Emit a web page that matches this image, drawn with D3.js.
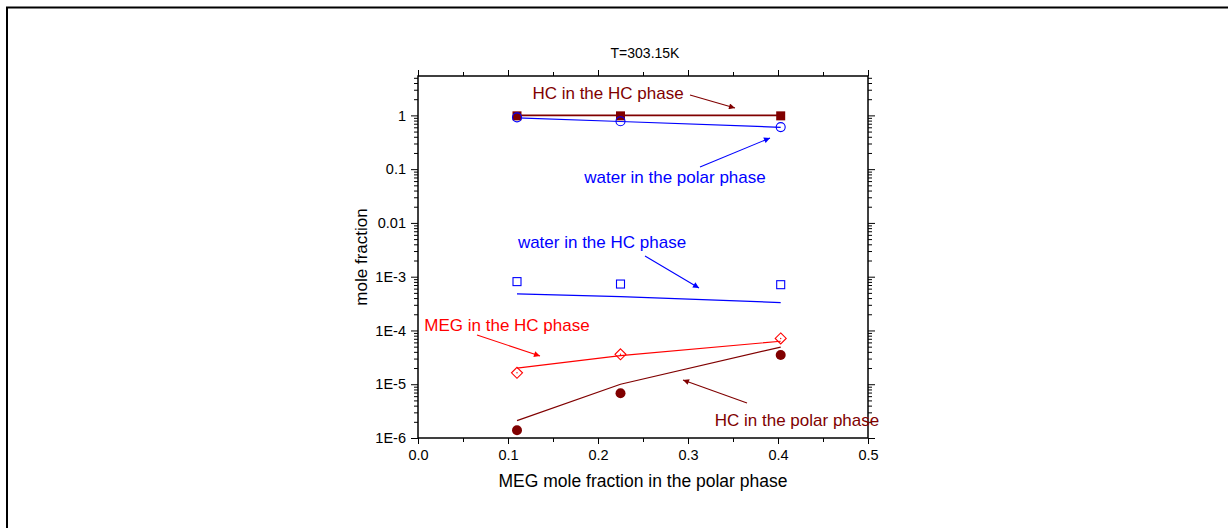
<!DOCTYPE html>
<html>
<head>
<meta charset="utf-8">
<script src="https://cdn.jsdelivr.net/npm/d3@7"></script>
<style>
  body { margin: 0; background: #fff; }
  text { font-family: "Liberation Sans", Arial, sans-serif; }
</style>
</head>
<body>
<div id="chart"></div>
<script>
// MEG mole fraction in the polar phase (x)
var megX = [0.11, 0.225, 0.403];

// measured points
var hcInHc       = [0.98, 0.98, 0.98];
var waterInPolar = [0.92, 0.78, 0.605];
var waterInHc    = [8.1e-4, 7.3e-4, 7.1e-4];
var megInHc      = [1.63e-5, 3.6e-5, 7.1e-5];
var hcInPolar    = [1.39e-6, 6.8e-6, 3.5e-5];

// model lines
var hcInHcModel       = [1.0, 1.0, 1.0];
var waterInPolarModel = [0.9, 0.77, 0.6];
var waterInHcModel    = [4.8e-4, 4.25e-4, 3.3e-4];
var megInHcModel      = [2.0e-5, 3.4e-5, 6.3e-5];
var hcInPolarModel    = [2.1e-6, 1.0e-5, 4.9e-5];

var xTicks = [0, 0.1, 0.2, 0.3, 0.4, 0.5];
var yTicks = [1e-6, 1e-5, 1e-4, 1e-3, 0.01, 0.1, 1];
var yTickLabels = ["1E-6", "1E-5", "1E-4", "1E-3", "0.01", "0.1", "1"];

var darkRed = "#800000", blue = "#0000ff", red = "#ff0000";

var W = 1228, H = 528;
var margin = { top: 76, left: 418, bottom: 90, right: 360 };
var width = W - margin.left - margin.right;
var height = H - margin.top - margin.bottom;

var root = d3.select("#chart").append("svg")
  .attr("width", W)
  .attr("height", H);

// outer frame (left + top only)
root.append("line").attr("x1", 7).attr("x2", 7).attr("y1", 7).attr("y2", H)
  .attr("stroke", "#000").attr("stroke-width", 2);
root.append("line").attr("x1", 6).attr("x2", W).attr("y1", 7.5).attr("y2", 7.5)
  .attr("stroke", "#000").attr("stroke-width", 2);

var svg = root.append("g")
  .attr("transform", "translate(" + margin.left + "," + margin.top + ")");

var x = d3.scaleLinear().domain([0, 0.5]).range([0, width]);
var y = d3.scaleLog().domain([1e-6, 5.4]).range([height, 0]);

// minor ticks
var xMinor = d3.range(0.05, 0.5, 0.1);
var yMinor = [];
for (var e = -6; e <= 0; e++) {
  for (var m = 2; m <= 9; m++) {
    var v = m * Math.pow(10, e);
    if (v <= 5.4) yMinor.push(v);
  }
}

function styleAxis(g) {
  g.select(".domain").remove();
  g.selectAll("line").attr("stroke", "#000");
  g.selectAll("text").attr("fill", "#000").attr("font-size", "14.5px");
}

// bottom axis
svg.append("g")
  .attr("transform", "translate(0," + height + ")")
  .call(d3.axisBottom(x).tickValues(xTicks).tickFormat(d3.format(".1f")).tickSize(6).tickPadding(6))
  .call(styleAxis);
svg.append("g")
  .attr("transform", "translate(0," + height + ")")
  .call(d3.axisBottom(x).tickValues(xMinor).tickFormat("").tickSize(4))
  .call(styleAxis);

// top axis
svg.append("g")
  .call(d3.axisTop(x).tickValues(xTicks).tickFormat("").tickSize(6))
  .call(styleAxis);
svg.append("g")
  .call(d3.axisTop(x).tickValues(xMinor).tickFormat("").tickSize(4))
  .call(styleAxis);

// left axis
svg.append("g")
  .call(d3.axisLeft(y).tickValues(yTicks).tickFormat(function(d, i) { return yTickLabels[i]; }).tickSize(7).tickPadding(5))
  .call(styleAxis);
svg.append("g")
  .call(d3.axisLeft(y).tickValues(yMinor).tickFormat("").tickSize(4))
  .call(styleAxis);

// right axis
svg.append("g")
  .attr("transform", "translate(" + width + ",0)")
  .call(d3.axisRight(y).tickValues(yTicks).tickFormat("").tickSize(7))
  .call(styleAxis);
svg.append("g")
  .attr("transform", "translate(" + width + ",0)")
  .call(d3.axisRight(y).tickValues(yMinor).tickFormat("").tickSize(4))
  .call(styleAxis);

// plot frame
svg.append("rect")
  .attr("width", width).attr("height", height)
  .attr("fill", "none").attr("stroke", "#000").attr("stroke-width", 1.5);

// model lines
var line = d3.line().x(function(d) { return x(d[0]); }).y(function(d) { return y(d[1]); });
var models = [
  { vals: hcInHcModel, color: darkRed, w: 1.8 },
  { vals: waterInPolarModel, color: blue, w: 1.2 },
  { vals: waterInHcModel, color: blue, w: 1.2 },
  { vals: megInHcModel, color: red, w: 1.2 },
  { vals: hcInPolarModel, color: darkRed, w: 1.2 }
];
models.forEach(function(s) {
  svg.append("path")
    .datum(megX.map(function(xv, i) { return [xv, s.vals[i]]; }))
    .attr("d", line)
    .attr("fill", "none")
    .attr("stroke", s.color)
    .attr("stroke-width", s.w);
});

function pts(vals) { return megX.map(function(xv, i) { return { x: xv, y: vals[i] }; }); }

// HC in HC phase: filled squares
svg.selectAll(".sqf").data(pts(hcInHc)).enter().append("rect")
  .attr("x", function(d) { return x(d.x) - 4.5; })
  .attr("y", function(d) { return y(d.y) - 4.5; })
  .attr("width", 9).attr("height", 9)
  .attr("fill", darkRed);

// water in polar phase: open circles
svg.selectAll(".circ").data(pts(waterInPolar)).enter().append("circle")
  .attr("cx", function(d) { return x(d.x); })
  .attr("cy", function(d) { return y(d.y); })
  .attr("r", 4.5)
  .attr("fill", "none").attr("stroke", blue).attr("stroke-width", 1.1);

// water in HC phase: open squares
svg.selectAll(".sqo").data(pts(waterInHc)).enter().append("rect")
  .attr("x", function(d) { return x(d.x) - 4; })
  .attr("y", function(d) { return y(d.y) - 4; })
  .attr("width", 8).attr("height", 8)
  .attr("fill", "none").attr("stroke", blue).attr("stroke-width", 1.1);

// MEG in HC phase: open diamonds with a centre dot
var diamonds = svg.selectAll(".dia").data(pts(megInHc)).enter().append("g")
  .attr("transform", function(d) { return "translate(" + x(d.x) + "," + y(d.y) + ")"; });
diamonds.append("path")
  .attr("d", "M0,-5.5L5.5,0L0,5.5L-5.5,0Z")
  .attr("fill", "none").attr("stroke", red).attr("stroke-width", 1.1);
diamonds.append("circle").attr("r", 0.7).attr("fill", red);

// HC in polar phase: filled circles
svg.selectAll(".cf").data(pts(hcInPolar)).enter().append("circle")
  .attr("cx", function(d) { return x(d.x); })
  .attr("cy", function(d) { return y(d.y); })
  .attr("r", 5)
  .attr("fill", darkRed);

// annotations with arrows
var defs = root.append("defs");
[["arrDarkRed", darkRed], ["arrBlue", blue], ["arrRed", red]].forEach(function(a) {
  defs.append("marker")
    .attr("id", a[0])
    .attr("viewBox", "0 0 10 10")
    .attr("refX", 10).attr("refY", 5)
    .attr("markerWidth", 10).attr("markerHeight", 6)
    .attr("markerUnits", "userSpaceOnUse")
    .attr("orient", "auto")
    .append("path").attr("d", "M0,0L10,5L0,10Z").attr("fill", a[1]);
});

var notes = [
  { text: "HC in the HC phase", tx: 608, ty: 99, color: darkRed, marker: "arrDarkRed", a: [690, 95, 735, 108] },
  { text: "water in the polar phase", tx: 675, ty: 183, color: blue, marker: "arrBlue", a: [700, 167, 770, 138] },
  { text: "water in the HC phase", tx: 602, ty: 248, color: blue, marker: "arrBlue", a: [645, 256, 699, 288] },
  { text: "MEG in the HC phase", tx: 507, ty: 331, color: red, marker: "arrRed", a: [477, 335, 540, 356] },
  { text: "HC in the polar phase", tx: 797, ty: 426, color: darkRed, marker: "arrDarkRed", a: [747, 403, 683, 380] }
];
notes.forEach(function(n) {
  root.append("text")
    .attr("x", n.tx).attr("y", n.ty)
    .attr("text-anchor", "middle")
    .attr("font-size", "17px")
    .attr("fill", n.color)
    .text(n.text);
  root.append("line")
    .attr("x1", n.a[0]).attr("y1", n.a[1])
    .attr("x2", n.a[2]).attr("y2", n.a[3])
    .attr("stroke", n.color).attr("stroke-width", 1.1)
    .attr("marker-end", "url(#" + n.marker + ")");
});

// title and axis labels
root.append("text")
  .attr("x", 645).attr("y", 58)
  .attr("text-anchor", "middle").attr("font-size", "14px")
  .text("T=303.15K");

root.append("text")
  .attr("x", margin.left + width / 2).attr("y", 487)
  .attr("text-anchor", "middle").attr("font-size", "17.5px")
  .text("MEG mole fraction in the polar phase");

root.append("text")
  .attr("transform", "translate(367," + (margin.top + height / 2) + ") rotate(-90)")
  .attr("text-anchor", "middle").attr("font-size", "17px")
  .text("mole fraction");
</script>
</body>
</html>
